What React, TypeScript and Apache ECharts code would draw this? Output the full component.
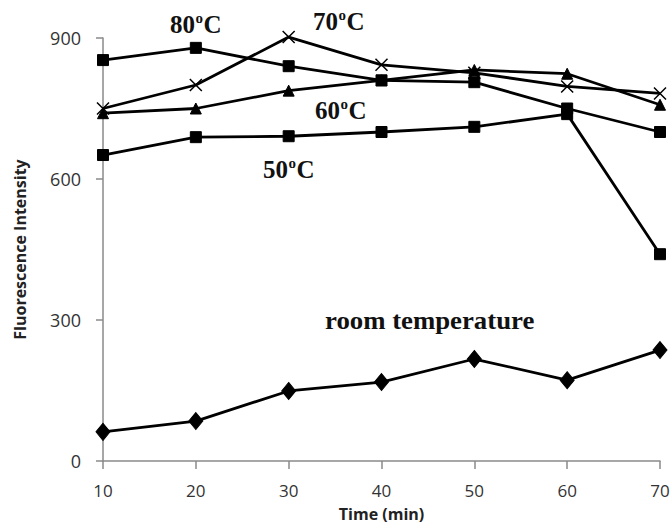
import React, { useEffect, useRef } from "react";
import * as echarts from "echarts";

const times = [10, 20, 30, 40, 50, 60, 70];
const yTicks = [0, 300, 600, 900];
const s80 = [853, 879, 840, 810, 806, 750, 700];
const s70 = [750, 800, 902, 843, 826, 797, 782];
const s60 = [740, 750, 788, 810, 832, 824, 758];
const s50 = [651, 689, 691, 700, 711, 738, 440];
const sRoom = [62, 85, 149, 168, 217, 172, 236];

const seriesNames = ["80°C", "70°C", "60°C", "50°C", "room temperature"];

const pairs = (vals: number[]) => vals.map((v, i) => [times[i], v]);

const serif = "'Liberation Serif', 'Times New Roman', serif";
const sans = "'Open Sans', 'Liberation Sans', sans-serif";

function degLabel(num: string, x: number, y: number) {
  const fs = 25;
  return {
    type: "group",
    x,
    y,
    children: [
      { type: "text", x: 0, y: 0, style: { text: num, font: `bold ${fs}px ${serif}`, fill: "#111", textVerticalAlign: "middle" } },
      { type: "text", x: 25.5, y: -6, style: { text: "o", font: `bold 15px ${serif}`, fill: "#111", textVerticalAlign: "middle" } },
      { type: "text", x: 33.5, y: 0, style: { text: "C", font: `bold ${fs}px ${serif}`, fill: "#111", textVerticalAlign: "middle" } },
    ],
  };
}

export default function App() {
  const ref = useRef<HTMLDivElement>(null);
  useEffect(() => {
    if (!ref.current) return;
    const chart = echarts.init(ref.current, null, { renderer: "svg" });
    const lineBase = {
      type: "line",
      lineStyle: { color: "#000", width: 2.8 },
      itemStyle: { color: "#000", borderColor: "#000" },
      clip: false,
      z: 3,
    };
    chart.setOption({
      animation: false,
      backgroundColor: "#fff",
      grid: { left: 103, right: 10, top: 38, bottom: 63, containLabel: false, outerBoundsMode: "none" },
      xAxis: {
        type: "value",
        min: 10,
        max: 70,
        interval: 10,
        name: "Time (min)",
        nameLocation: "middle",
        nameGap: 45,
        nameMoveOverlap: false,
        nameTextStyle: { fontFamily: sans, fontWeight: "bold", fontSize: 16, color: "#222", lineHeight: 16 },
        axisLine: { show: true, lineStyle: { color: "#8a8a8a", width: 1.5 } },
        axisTick: { show: true, inside: false, length: 8, lineStyle: { color: "#8a8a8a", width: 1.5 } },
        axisLabel: { margin: 21, fontFamily: sans, fontSize: 17, color: "#333", lineHeight: 17 },
        splitLine: { show: false },
      },
      yAxis: {
        type: "value",
        min: yTicks[0],
        max: yTicks[yTicks.length - 1],
        interval: 300,
        name: "Fluorescence Intensity",
        nameLocation: "middle",
        nameGap: 75,
        nameMoveOverlap: false,
        nameRotate: 90,
        nameTextStyle: { fontFamily: sans, fontWeight: "bold", fontSize: 16, color: "#222" },
        axisLine: { show: true, lineStyle: { color: "#8a8a8a", width: 1.5 } },
        axisTick: { show: true, inside: false, length: 7, lineStyle: { color: "#8a8a8a", width: 1.5 } },
        axisLabel: { margin: 22, fontFamily: sans, fontSize: 18, color: "#333" },
        splitLine: { show: false },
      },
      series: [
        { ...lineBase, name: seriesNames[0], data: pairs(s80), symbol: "rect", symbolSize: 11 },
        {
          ...lineBase,
          name: seriesNames[1],
          data: pairs(s70),
          symbol: "path://M0,0L10,10M10,0L0,10",
          symbolSize: 12,
          itemStyle: { color: "#000", borderColor: "#000", borderWidth: 1.5 },
        },
        { ...lineBase, name: seriesNames[2], data: pairs(s60), symbol: "triangle", symbolSize: 11 },
        { ...lineBase, name: seriesNames[3], data: pairs(s50), symbol: "rect", symbolSize: 11 },
        { ...lineBase, name: seriesNames[4], data: pairs(sRoom), symbol: "diamond", symbolSize: [14, 17] },
      ],
      graphic: [
        degLabel("80", 170, 24),
        degLabel("70", 313, 21),
        degLabel("60", 315, 110),
        degLabel("50", 263, 169),
        {
          type: "text",
          x: 325,
          y: 320,
          scaleX: 1.03,
          style: {
            text: seriesNames[4],
            font: `bold 26px ${serif}`,
            fill: "#111",
            textVerticalAlign: "middle",
          },
        },
      ],
    });
    return () => chart.dispose();
  }, []);
  return (
    <div
      ref={ref}
      style={{ position: "fixed", left: 0, top: 0, width: 670, height: 524, background: "#fff" }}
    />
  );
}
